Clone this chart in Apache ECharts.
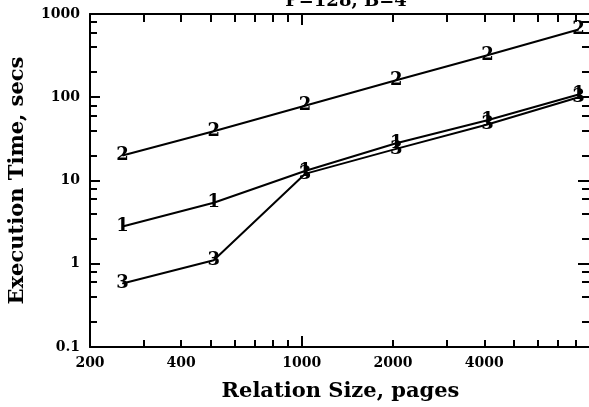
<!DOCTYPE html>
<html>
<head>
<meta charset="utf-8">
<script src="https://cdn.jsdelivr.net/npm/echarts@6/dist/echarts.min.js"></script>
<style>
html, body { margin: 0; padding: 0; background: #fff; }
#main { width: 589px; height: 407px; }
</style>
</head>
<body>
<div id="main"></div>
<script>
// relation size in pages, x axis
var pages = [256, 512, 1024, 2048, 4096, 8192]
// execution time in secs, one list per curve
var curve1 = [2.8, 5.4, 13, 28, 53, 108]
var curve2 = [20, 39, 79, 160, 320, 650]
var curve3 = [0.58, 1.1, 12, 24, 47, 100]

var xLabels = [200, 400, 1000, 2000, 4000]
var xMajor = [1000]
var xMinor = [300, 400, 500, 600, 700, 800, 900, 2000, 3000, 4000, 5000, 6000, 7000, 8000]
var yLabels = [0.1, 1, 10, 100, 1000]
var yMajor = [0.1, 1, 10, 100, 1000]
var yMinor = [0.2, 0.4, 0.6, 0.8, 2, 4, 6, 8, 20, 40, 60, 80, 200, 400, 600, 800]

var font = 'DejaVu Serif'

function pairs(ys) {
	var out = []
	for (var i = 0; i < pages.length; i++) {
		out.push([pages[i], ys[i]])
	}
	return out
}

function xAxisOf(pos, ticks, len, withLine) {
	return {
		type : 'log',
		logBase : 10,
		min : 200,
		max : 9000,
		position : pos,
		axisLine : { show : withLine, lineStyle : { color : '#000', width : 2 } },
		axisTick : { show : true, inside : true, length : len, customValues : ticks,
			lineStyle : { color : '#000', width : 2 } },
		axisLabel : { show : false },
		splitLine : { show : false },
		minorTick : { show : false }
	}
}

function yAxisOf(pos, ticks, len, withLine) {
	return {
		type : 'log',
		logBase : 10,
		min : 0.1,
		max : 1000,
		position : pos,
		axisLine : { show : withLine, lineStyle : { color : '#000', width : 2 } },
		axisTick : { show : true, inside : true, length : len, customValues : ticks,
			lineStyle : { color : '#000', width : 2 } },
		axisLabel : { show : false },
		splitLine : { show : false },
		minorTick : { show : false }
	}
}

var nameStyle = { fontFamily : font, fontWeight : 'bold', fontSize : 21, color : '#000' }

var xa = [
	xAxisOf('bottom', xMajor, 11, true),
	xAxisOf('bottom', xMinor, 7, false),
	xAxisOf('top', xMajor, 11, true),
	xAxisOf('top', xMinor, 8, false)
]
xa[0].axisLabel = {
	show : true, customValues : xLabels, margin : 9,
	fontFamily : font, fontWeight : 'bold', fontSize : 14, color : '#000',
	formatter : function(v) { return String(Math.round(v)) }
}
xa[0].name = 'Relation Size, pages'
xa[0].nameLocation = 'middle'
xa[0].nameGap = 34
xa[0].nameTextStyle = nameStyle

var ya = [
	yAxisOf('left', yMajor, 10, true),
	yAxisOf('left', yMinor, 7, false),
	yAxisOf('right', yMajor, 13, false),
	yAxisOf('right', yMinor, 9, false)
]
ya[0].axisLabel = {
	show : true, customValues : yLabels, margin : 10,
	fontFamily : font, fontWeight : 'bold', fontSize : 14, color : '#000',
	formatter : function(v) { return String(v) }
}
ya[0].name = 'Execution Time, secs'
ya[0].nameLocation = 'middle'
ya[0].nameGap = 62
ya[0].nameTextStyle = nameStyle

function curve(name, ys) {
	return {
		name : name,
		type : 'line',
		xAxisIndex : 0,
		yAxisIndex : 0,
		data : pairs(ys),
		symbol : 'circle',
		symbolSize : 1,
		itemStyle : { color : '#000' },
		lineStyle : { color : '#000', width : 2 },
		label : {
			show : true,
			position : 'inside',
			formatter : name,
			fontFamily : font,
			fontWeight : 'bold',
			fontSize : 18,
			color : '#000'
		},
		animation : false
	}
}

var myChart = echarts.init(document.getElementById('main'))
myChart.setOption({
	backgroundColor : '#fff',
	animation : false,
	title : {
		text : 'P=128, B=4',
		left : 341,
		textAlign : 'center',
		top : -13,
		textStyle : { fontFamily : font, fontWeight : 'bold', fontSize : 18, color : '#000' }
	},
	grid : { left : 90, right : -2, top : 14, bottom : 60, containLabel : false, outerBoundsMode : 'none' },
	xAxis : xa,
	yAxis : ya,
	series : [curve('1', curve1), curve('2', curve2), curve('3', curve3)]
})
</script>
</body>
</html>
